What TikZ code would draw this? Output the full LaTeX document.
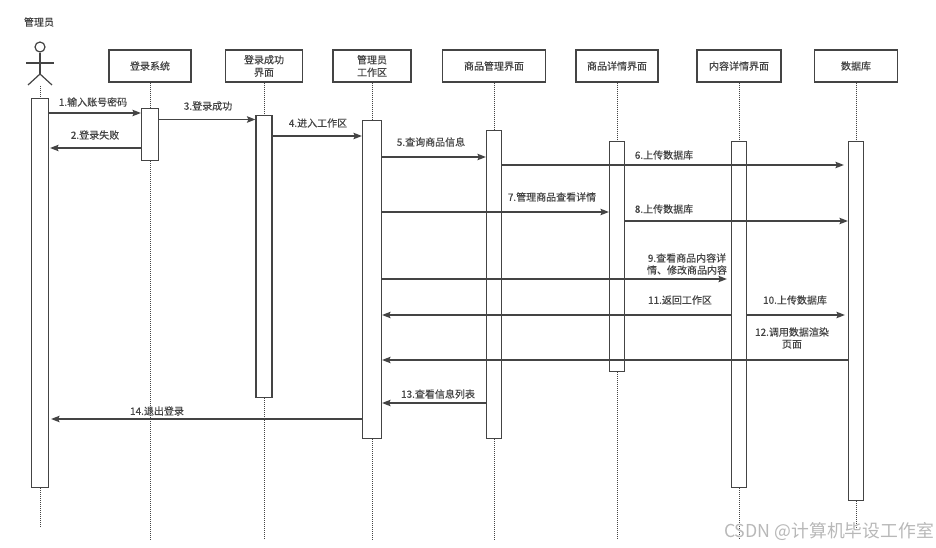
\documentclass[tikz,border=0pt]{standalone}
\usepackage{fontspec}
\setmainfont[FakeBold=0.35]{Noto Sans CJK SC}
\newfontfamily\markfont{Noto Sans CJK SC}
\usetikzlibrary{arrows.meta}
\definecolor{ink}{HTML}{444444}
\tikzset{
	headbox/.style={draw=ink,line width=1.2pt,fill=white,minimum height=32pt,inner sep=0pt,align=center,font=\fontsize{10}{12.5}\selectfont,text=ink},
	bar/.style={draw=ink,line width=1.2pt,fill=white,inner sep=0pt,anchor=north},
	msg/.style={draw=ink,line width=1.2pt,-{Stealth[length=8.5pt,width=6.5pt,inset=1.5pt]}},
	life/.style={draw=ink,line width=1pt,densely dotted},
	say/.style={inner sep=0pt,align=center,font=\fontsize{10}{12}\selectfont,text=ink}
}
\begin{document}
\begin{tikzpicture}[x=1pt,y=-1pt]
	\useasboundingbox (0,0) rectangle (936,548);

	\node[say] (name) at (39,22) {管理员};
	\node[headbox,minimum width=82pt] (login) at (150,66) {登录系统};
	\node[headbox,minimum width=77pt] (okpage) at (264,66) {登录成功\\界面};
	\node[headbox,minimum width=78pt] (work) at (372,66) {管理员\\工作区};
	\node[headbox,minimum width=103pt] (goods) at (494,66) {商品管理界面};
	\node[headbox,minimum width=82pt] (detail) at (617,66) {商品详情界面};
	\node[headbox,minimum width=84pt] (content) at (739,66) {内容详情界面};
	\node[headbox,minimum width=83pt] (db) at (856,66) {数据库};

	\node[bar,minimum width=17pt,minimum height=389pt] (adminbar) at (40,98) {};
	\node[bar,minimum width=17pt,minimum height=52pt] (loginbar) at (150,108) {};
	\node[bar,minimum width=16pt,minimum height=282pt] (okbar) at (264,115) {};
	\node[bar,minimum width=19pt,minimum height=318pt] (workbar) at (372,120) {};
	\node[bar,minimum width=15pt,minimum height=308pt] (goodsbar) at (494,130) {};
	\node[bar,minimum width=15pt,minimum height=230pt] (detailbar) at (617,141) {};
	\node[bar,minimum width=15pt,minimum height=346pt] (contentbar) at (739,141) {};
	\node[bar,minimum width=15pt,minimum height=359pt] (dbbar) at (856,141) {};

	\node[circle,draw=ink,line width=1.2pt,minimum size=10pt,inner sep=0pt] (head) at (40,47) {};
	\coordinate (hip) at (40,74);
	\coordinate (handl) at (26,63);
	\coordinate (handr) at (54,63);
	\coordinate (footl) at (28,85);
	\coordinate (footr) at (52,85);
	\coordinate (feet) at (40,86);
	\draw[draw=ink,line width=1.2pt] (head) -- (hip);
	\draw[draw=ink,line width=1.2pt] (handl) -- (handr);
	\draw[draw=ink,line width=1.2pt] (footl) -- (hip) -- (footr);

	\coordinate (adminend) at (40,528);
	\coordinate (loginend) at (150,540);
	\coordinate (okend) at (264,540);
	\coordinate (workend) at (372,540);
	\coordinate (goodsend) at (494,540);
	\coordinate (detailend) at (617,540);
	\coordinate (contentend) at (739,540);
	\coordinate (dbend) at (856,530);

	\draw[life] (feet) -- (adminbar.north);
	\draw[life] (adminbar.south) -- (adminend);
	\draw[life] (login.south) -- (loginbar.north);
	\draw[life] (loginbar.south) -- (loginend);
	\draw[life] (okpage.south) -- (okbar.north);
	\draw[life] (okbar.south) -- (okend);
	\draw[life] (work.south) -- (workbar.north);
	\draw[life] (workbar.south) -- (workend);
	\draw[life] (goods.south) -- (goodsbar.north);
	\draw[life] (goodsbar.south) -- (goodsend);
	\draw[life] (detail.south) -- (detailbar.north);
	\draw[life] (detailbar.south) -- (detailend);
	\draw[life] (content.south) -- (contentbar.north);
	\draw[life] (contentbar.south) -- (contentend);
	\draw[life] (db.south) -- (dbbar.north);
	\draw[life] (dbbar.south) -- (dbend);

	\draw[msg] (adminbar.east |- 0,113) -- (loginbar.west |- 0,113);
	\draw[msg,shorten >=1pt] (loginbar.west |- 0,148) -- (adminbar.east |- 0,148);
	\draw[msg] (loginbar.east |- 0,119.5) -- (okbar.west |- 0,119.5);
	\draw[msg] (okbar.east |- 0,136) -- (workbar.west |- 0,136);
	\draw[msg] (workbar.east |- 0,157) -- (goodsbar.west |- 0,157);
	\draw[msg,shorten >=4pt] (goodsbar.east |- 0,165) -- (dbbar.west |- 0,165);
	\draw[msg] (workbar.east |- 0,212) -- (detailbar.west |- 0,212);
	\draw[msg] (detailbar.east |- 0,221) -- (dbbar.west |- 0,221);
	\draw[msg,shorten >=4pt] (workbar.east |- 0,279) -- (contentbar.west |- 0,279);
	\draw[msg,shorten >=3pt] (contentbar.east |- 0,315) -- (dbbar.west |- 0,315);
	\draw[msg] (contentbar.west |- 0,315) -- (workbar.east |- 0,315);
	\draw[msg] (dbbar.west |- 0,360) -- (workbar.east |- 0,360);
	\draw[msg] (goodsbar.west |- 0,403) -- (workbar.east |- 0,403);
	\draw[msg,shorten >=2pt] (workbar.west |- 0,419) -- (adminbar.east |- 0,419);

	\node[say] (m1) at (93,102) {1.输入账号密码};
	\node[say] (m2) at (95,135) {2.登录失败};
	\node[say] (m3) at (208,106) {3.登录成功};
	\node[say] (m4) at (318,123) {4.进入工作区};
	\node[say] (m5) at (431,142) {5.查询商品信息};
	\node[say] (m6) at (664,155) {6.上传数据库};
	\node[say] (m7) at (552,197) {7.管理商品查看详情};
	\node[say] (m8) at (664,209) {8.上传数据库};
	\node[say] (m9) at (687,264) {9.查看商品内容详\\情、修改商品内容};
	\node[say] (m10) at (795,300) {10.上传数据库};
	\node[say] (m11) at (680,300) {11.返回工作区};
	\node[say] (m12) at (792,338) {12.调用数据渲染\\页面};
	\node[say] (m13) at (438,394) {13.查看信息列表};
	\node[say] (m14) at (157,411) {14.退出登录};

	\node[inner sep=0pt,text=black!28,font=\markfont\fontsize{17.8}{20}\selectfont] (mark) at (829,531) {CSDN @计算机毕设工作室};
\end{tikzpicture}
\end{document}
